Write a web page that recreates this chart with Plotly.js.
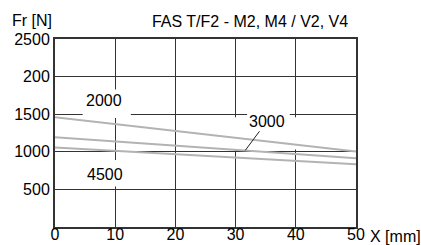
<!DOCTYPE html>
<html>
<head>
<meta charset="utf-8">
<script src="https://cdn.plot.ly/plotly-3.0.1.min.js"></script>
<style>html,body{margin:0;padding:0;background:#fff;}#chart{width:421px;height:245px;}</style>
</head>
<body>
<div id="chart"></div>
<script>
// Stroke (X) in mm
var strokeX = [0, 50];
// Radial load Fr [N] per speed curve
var fr2000 = [1460, 1005];
var fr3000 = [1195, 915];
var fr4500 = [1057, 835];
var speedLabels = ['2000', '3000', '4500'];
// Axis ticks
var xTickVals = [0, 10, 20, 30, 40, 50];
var xTickText = ['0', '10', '20', '30', '40', '50'];
var yTickVals = [500, 1000, 1500, 2000, 2500];
var yTickText = ['500', '1000', '1500', '200', '2500'];

var lineStyle = {color: '#b3b3b3', width: 2};
var traces = [
  {x: strokeX, y: fr2000, mode: 'lines', line: lineStyle, name: speedLabels[0], hoverinfo: 'skip'},
  {x: strokeX, y: fr3000, mode: 'lines', line: lineStyle, name: speedLabels[1], hoverinfo: 'skip'},
  {x: strokeX, y: fr4500, mode: 'lines', line: lineStyle, name: speedLabels[2], hoverinfo: 'skip'}
];

var txtFont = {family: 'Liberation Sans, Arial, sans-serif', size: 16, color: '#000'};

var layout = {
  width: 421, height: 245,
  margin: {l: 55, r: 65, t: 39, b: 18, pad: 0},
  paper_bgcolor: '#fff', plot_bgcolor: '#fff',
  showlegend: false,
  font: txtFont,
  title: {text: 'FAS T/F2 - M2, M4 / V2, V4', x: 0.594, xanchor: 'center', y: 0.914, yanchor: 'middle', xref: 'container', yref: 'container', font: txtFont},
  xaxis: {
    range: [0, 50], tickvals: xTickVals, ticktext: xTickText, ticks: '',
    ticklabelstandoff: -8,
    showgrid: true, gridcolor: '#333', gridwidth: 1, zeroline: false,
    showline: true, mirror: true, linecolor: '#333', linewidth: 2,
    tickfont: txtFont, fixedrange: true
  },
  yaxis: {
    range: [0, 2500], tickvals: yTickVals, ticktext: yTickText, ticks: '',
    showgrid: true, gridcolor: '#333', gridwidth: 1, zeroline: false,
    showline: true, mirror: true, linecolor: '#333', linewidth: 2,
    tickfont: txtFont, fixedrange: true
  },
  shapes: [
    {type: 'rect', layer: 'between', xref: 'x', yref: 'y', x0: 4.6, x1: 12.6, y0: 1450, y1: 1830, fillcolor: '#fff', line: {width: 0}},
    {type: 'rect', layer: 'between', xref: 'x', yref: 'y', x0: 29.8, x1: 40.2, y0: 1030, y1: 1460, fillcolor: '#fff', line: {width: 0}},
    {type: 'rect', layer: 'between', xref: 'x', yref: 'y', x0: 31.9, x1: 39.0, y0: 1440, y1: 1560, fillcolor: '#fff', line: {width: 0}},
    {type: 'rect', layer: 'between', xref: 'x', yref: 'y', x0: 5.0, x1: 11.6, y0: 540, y1: 890, fillcolor: '#fff', line: {width: 0}}
  ],
  annotations: [
    {text: 'Fr [N]', xref: 'paper', yref: 'paper', x: -0.0748, y: 1.096, xanchor: 'center', yanchor: 'middle', showarrow: false, font: txtFont},
    {text: 'X [mm]', xref: 'paper', yref: 'paper', x: 1.040, y: -0.053, xanchor: 'left', yanchor: 'middle', showarrow: false, font: txtFont},
    {text: speedLabels[0], xref: 'x', yref: 'y', x: 8.14, y: 1684, showarrow: false, font: txtFont},
    {text: speedLabels[2], xref: 'x', yref: 'y', x: 8.3, y: 703, showarrow: false, font: txtFont},
    {text: speedLabels[1], xref: 'x', yref: 'y', x: 31.6, y: 1018, axref: 'x', ayref: 'y', ax: 35.2, ay: 1406,
     showarrow: true, arrowhead: 0, arrowwidth: 1, arrowcolor: '#222', standoff: 0, font: txtFont}
  ]
};

Plotly.newPlot('chart', traces, layout, {displayModeBar: false, staticPlot: true});
</script>
</body>
</html>
